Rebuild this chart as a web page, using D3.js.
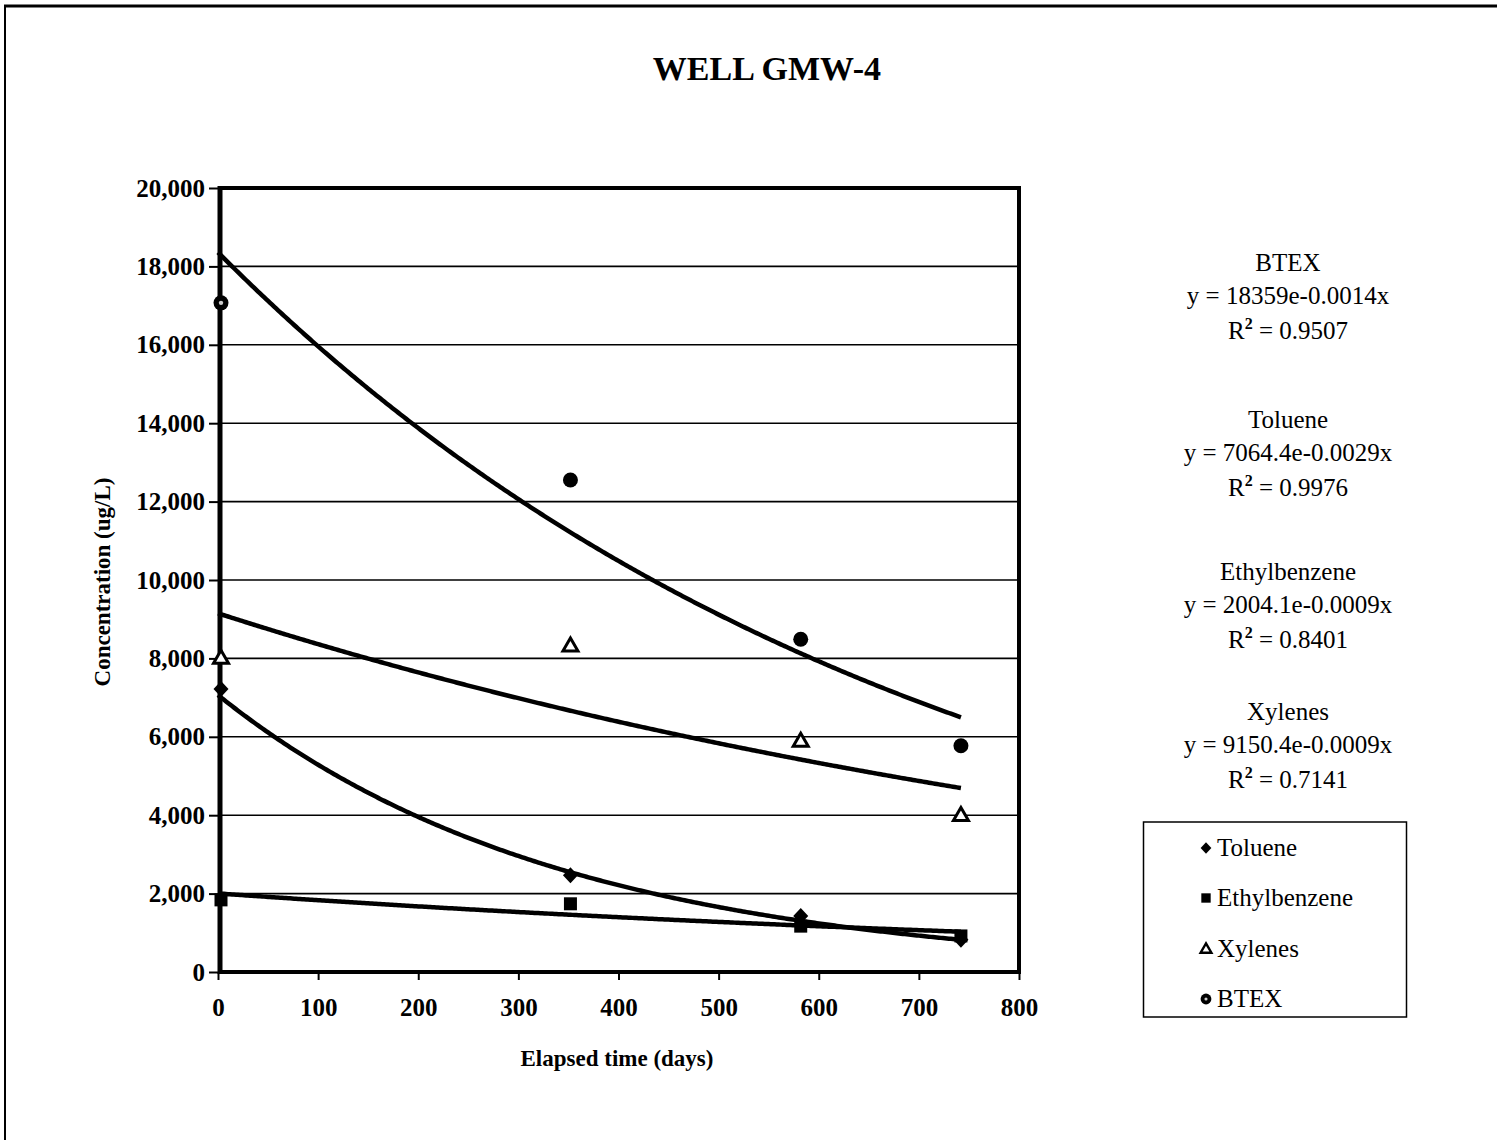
<!DOCTYPE html>
<html><head><meta charset="utf-8">
<script src="https://cdn.jsdelivr.net/npm/d3@7"></script>
<style>html,body{margin:0;padding:0;background:#fff;}svg{display:block;}</style>
</head><body>
<svg id="c" width="1497" height="1140"></svg>
<script>
const title = "WELL GMW-4";
const days = [3, 352, 582, 742];
const toluene = [7220, 2470, 1430, 820];
const ethylbenzene = [1840, 1740, 1170, 920];
const xylenes = [8010, 8320, 5890, 4000];
const btex = [17070, 12550, 8490, 5770];
const seriesNames = ["Toluene", "Ethylbenzene", "Xylenes", "BTEX"];
const fitA = [7064.4, 2004.1, 9150.4, 18359];
const fitB = [-0.0029, -0.0009, -0.0009, -0.0014];
const eqNames = ["BTEX", "Toluene", "Ethylbenzene", "Xylenes"];
const eqLines = ["y = 18359e-0.0014x", "y = 7064.4e-0.0029x", "y = 2004.1e-0.0009x", "y = 9150.4e-0.0009x"];
const r2Vals = ["0.9507", "0.9976", "0.8401", "0.7141"];
const xTicks = [0, 100, 200, 300, 400, 500, 600, 700, 800];
const yTicks = [0, 2000, 4000, 6000, 8000, 10000, 12000, 14000, 16000, 18000, 20000];

const svg = d3.select("#c");
const serif = "'Liberation Serif','Times New Roman',serif";
const x = d3.scaleLinear().domain([0, 800]).range([218, 1019]);
const y = d3.scaleLinear().domain([0, 20000]).range([972, 188]);

// outer frame
svg.append("line").attr("x1", 4).attr("x2", 1497).attr("y1", 6).attr("y2", 6).attr("stroke", "#000").attr("stroke-width", 3);
svg.append("line").attr("x1", 5).attr("x2", 5).attr("y1", 5).attr("y2", 1140).attr("stroke", "#000").attr("stroke-width", 2);

svg.append("text").attr("x", 767).attr("y", 80).attr("text-anchor", "middle")
  .attr("font-family", serif).attr("font-weight", "bold").attr("font-size", 34).text(title);

// gridlines
svg.append("g").selectAll("line").data(yTicks.filter(t => t > 0 && t < 20000)).join("line")
  .attr("x1", x(0)).attr("x2", x(800)).attr("y1", d => y(d)).attr("y2", d => y(d))
  .attr("stroke", "#000").attr("stroke-width", 1.6);

// axes
const yAxis = d3.axisLeft(y).tickValues(yTicks).tickSize(9).tickFormat(d3.format(","));
const gy = svg.append("g").attr("transform", `translate(${x(0)},0)`).call(yAxis);
gy.select(".domain").remove();
gy.selectAll(".tick line").attr("stroke-width", 2);
gy.selectAll(".tick text").attr("font-family", serif).attr("font-weight", "bold").attr("font-size", 25).attr("x", -13).attr("fill", "#000");

const xAxis = d3.axisBottom(x).tickValues(xTicks).tickSize(8).tickFormat(d3.format("d"));
const gx = svg.append("g").attr("transform", `translate(0,${y(0)})`).call(xAxis);
gx.select(".domain").remove();
gx.selectAll(".tick line").attr("stroke-width", 2);
gx.selectAll(".tick text").attr("font-family", serif).attr("font-weight", "bold").attr("font-size", 25).attr("dy", "1.3em").attr("fill", "#000");

// plot border
svg.append("line").attr("x1", x(0)).attr("x2", x(800)).attr("y1", y(20000)).attr("y2", y(20000)).attr("stroke", "#000").attr("stroke-width", 4);
svg.append("line").attr("x1", x(800)).attr("x2", x(800)).attr("y1", y(20000) - 2).attr("y2", y(0) + 2).attr("stroke", "#000").attr("stroke-width", 4);
svg.append("line").attr("x1", x(0)).attr("x2", x(800)).attr("y1", y(0)).attr("y2", y(0)).attr("stroke", "#000").attr("stroke-width", 4);
svg.append("line").attr("x1", x(0) + 2).attr("x2", x(0) + 2).attr("y1", y(20000) - 2).attr("y2", y(0) + 2).attr("stroke", "#000").attr("stroke-width", 5);

// axis titles
svg.append("text").attr("x", 617).attr("y", 1066).attr("text-anchor", "middle")
  .attr("font-family", serif).attr("font-weight", "bold").attr("font-size", 23).text("Elapsed time (days)");
svg.append("text").attr("transform", "translate(110,582) rotate(-90)").attr("text-anchor", "middle")
  .attr("font-family", serif).attr("font-weight", "bold").attr("font-size", 23).text("Concentration (ug/L)");

// trendlines
const seriesVals = [toluene, ethylbenzene, xylenes, btex];
const line = d3.line().x(d => x(d[0])).y(d => y(d[1])).curve(d3.curveLinear);
seriesVals.forEach((vals, i) => {
  const xmax = days[days.length - 1];
  const pts = d3.range(0, xmax + 0.5, 2).map(t => [t, fitA[i] * Math.exp(fitB[i] * t)]);
  svg.append("path").attr("d", line(pts)).attr("fill", "none").attr("stroke", "#000").attr("stroke-width", 4.5).attr("stroke-linecap", "butt");
});

// markers
function drawMarker(g, i, cx, cy, k, ring) {
  k = k || 1;
  const t = `translate(${cx},${cy})`;
  if (i === 0) {
    const w = 7.5 * k, h = 8 * k;
    g.append("path").attr("d", `M0,${-h}L${w},0L0,${h}L${-w},0Z`).attr("transform", t).attr("fill", "#000");
  } else if (i === 1) {
    const s = 13 * k;
    g.append("rect").attr("x", cx - s / 2).attr("y", cy - s / 2).attr("width", s).attr("height", s).attr("fill", "#000");
  } else if (i === 2) {
    const w = 7.5 * k, h = 13 * k;
    g.append("path").attr("d", `M0,${-h * 0.6}L${w},${h * 0.4}L${-w},${h * 0.4}Z`).attr("transform", t)
      .attr("fill", "#fff").attr("stroke", "#000").attr("stroke-width", 3 * Math.max(k, 0.8)).attr("stroke-linejoin", "miter");
  } else {
    g.append("circle").attr("cx", cx).attr("cy", cy).attr("r", 7.5 * k).attr("fill", "#000");
    if (ring) g.append("circle").attr("cx", cx).attr("cy", cy).attr("r", 2.2 * k).attr("fill", "#ccc");
  }
}
const mg = svg.append("g");
[2, 3, 1, 0].forEach(i => {
  seriesVals[i].forEach((v, k) => drawMarker(mg, i, x(days[k]), y(v), 1, i === 3 && k === 0));
});

// equations
const eqX = 1288;
const eqY0 = [271, 428, 580, 720];
eqNames.forEach((n, i) => {
  const g = svg.append("g").attr("font-family", serif).attr("font-size", 25).attr("text-anchor", "middle");
  g.append("text").attr("x", eqX).attr("y", eqY0[i]).text(n);
  g.append("text").attr("x", eqX).attr("y", eqY0[i] + 33).text(eqLines[i]);
  const t = g.append("text").attr("x", eqX).attr("y", eqY0[i] + 68);
  t.append("tspan").text("R");
  t.append("tspan").attr("font-size", 16).attr("font-weight", "bold").attr("dy", -10).text("2");
  t.append("tspan").attr("dy", 10).text(" = " + r2Vals[i]);
});

// legend
svg.append("rect").attr("x", 1143.5).attr("y", 822).attr("width", 263).attr("height", 195)
  .attr("fill", "#fff").attr("stroke", "#000").attr("stroke-width", 1.5);
const legY = [848, 898, 949, 999];
const lg = svg.append("g");
seriesNames.forEach((n, i) => {
  drawMarker(lg, i, 1206, legY[i], 0.72, true);
  lg.append("text").attr("x", 1217).attr("y", legY[i] + 8).attr("font-family", serif).attr("font-size", 25).text(n);
});
</script>
</body></html>
